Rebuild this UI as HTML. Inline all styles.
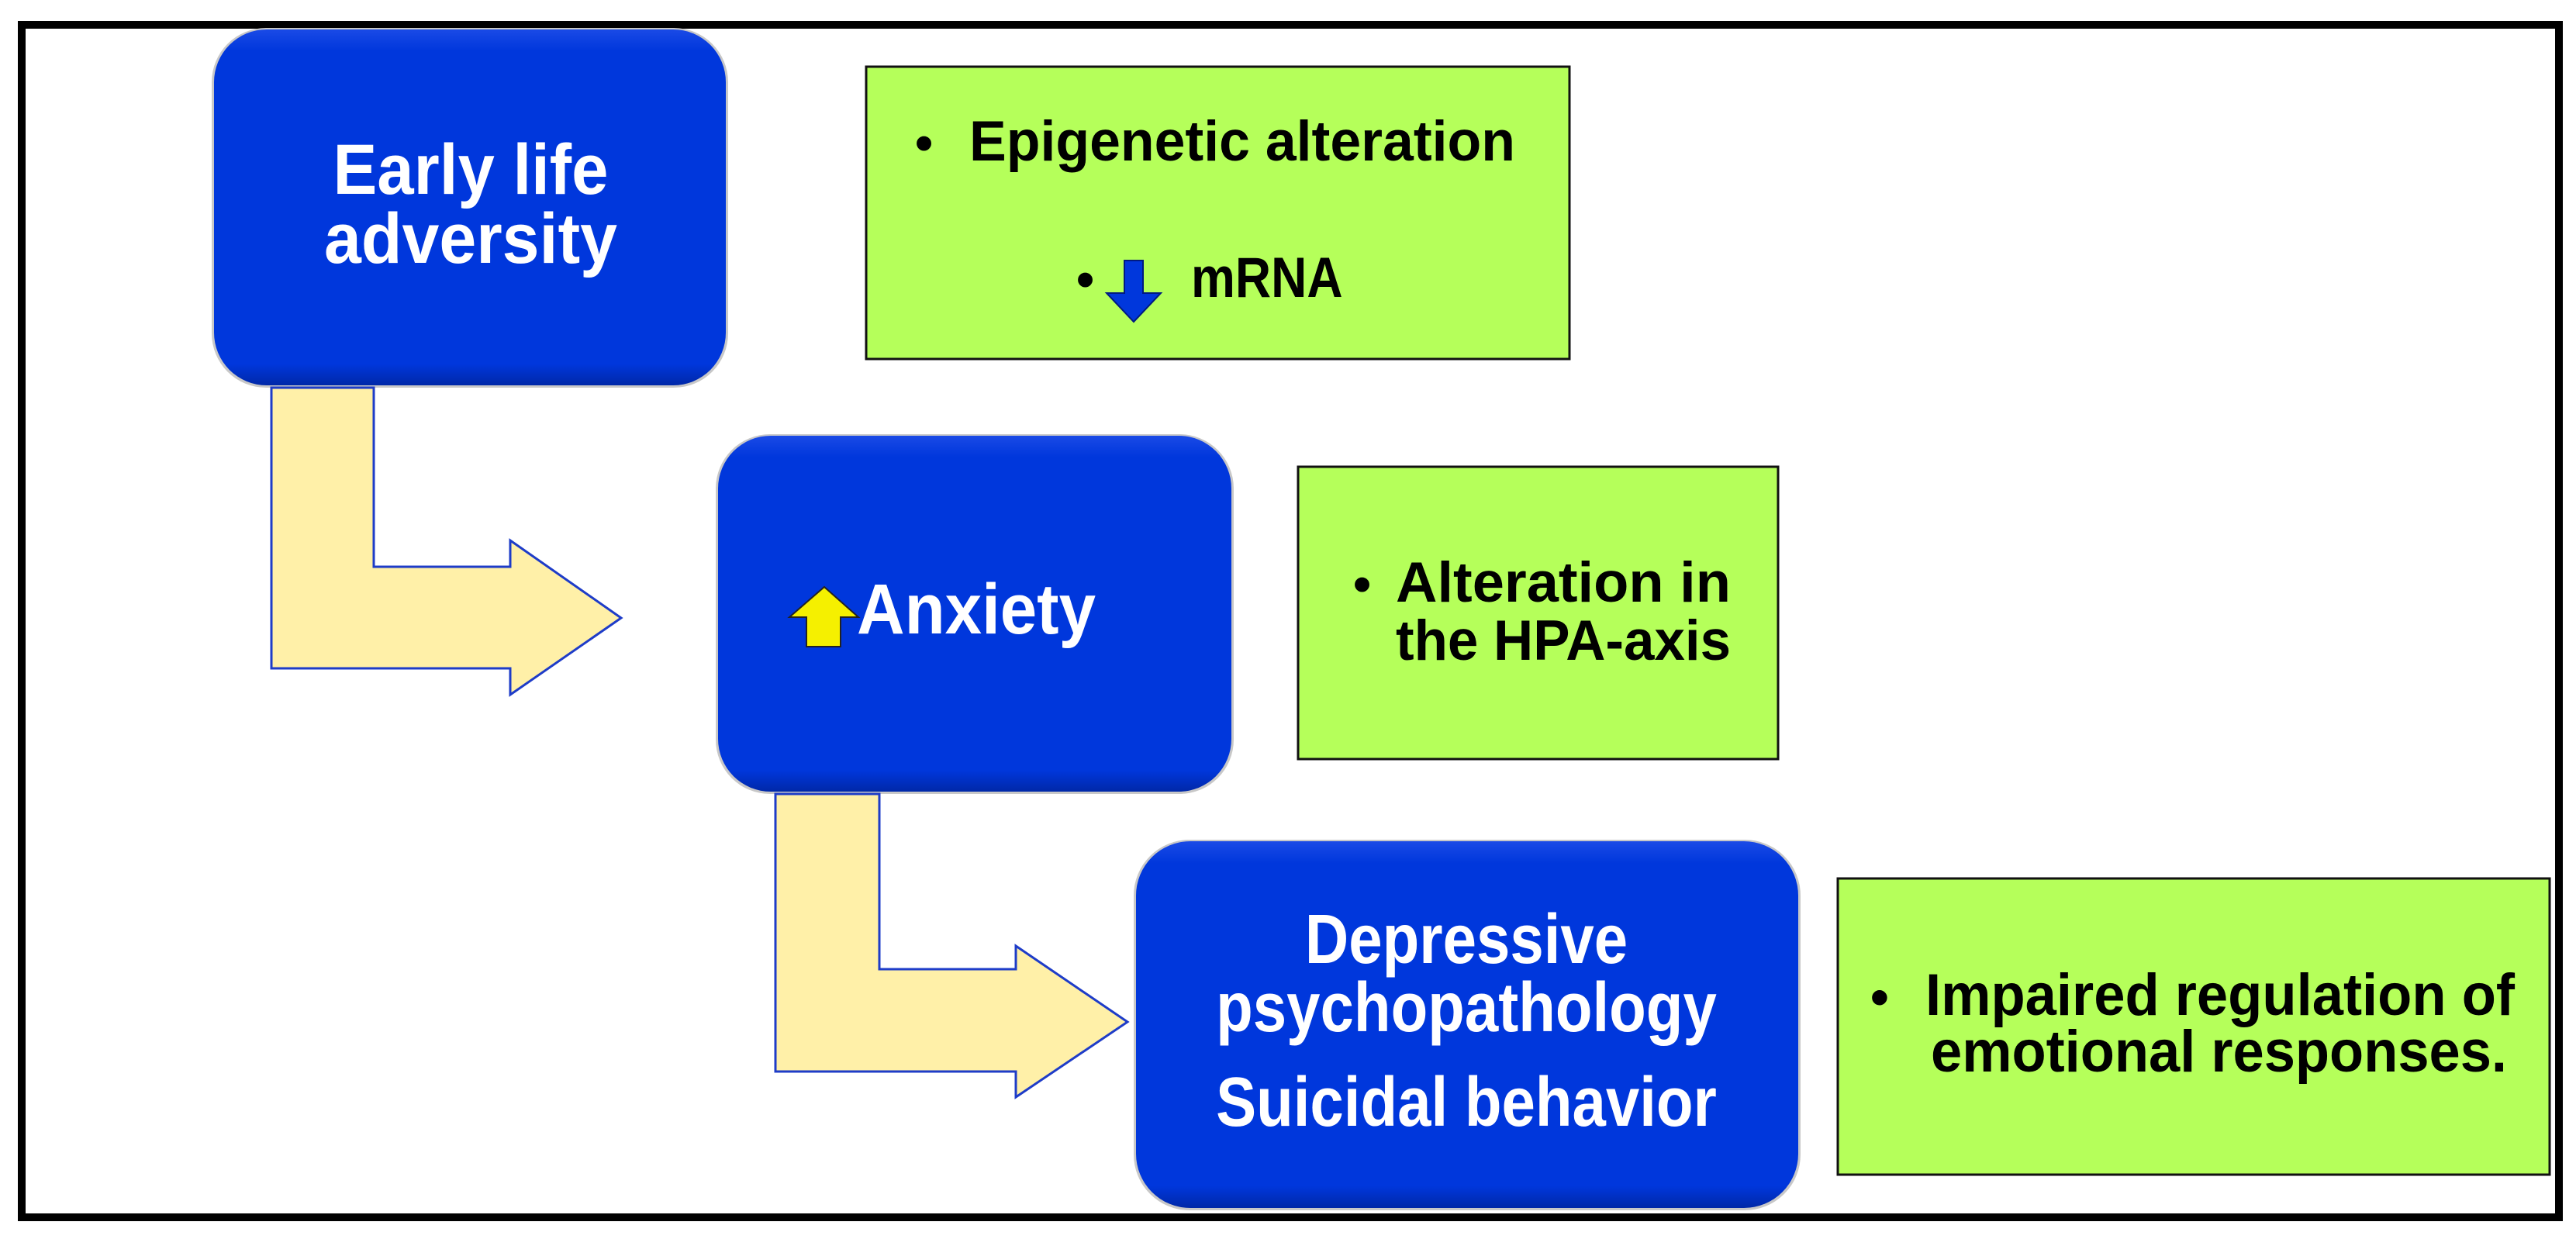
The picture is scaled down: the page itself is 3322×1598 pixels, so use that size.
<!DOCTYPE html>
<html><head><meta charset="utf-8"><style>
html,body{margin:0;padding:0;background:#fff;}
svg{display:block;}
text{font-family:"Liberation Sans",Arial,sans-serif;font-weight:bold;}
</style></head><body>
<svg width="3322" height="1598" viewBox="0 0 3322 1598" xmlns="http://www.w3.org/2000/svg">
<defs>
<linearGradient id="bv" x1="0" y1="0" x2="0" y2="1">
<stop offset="0" stop-color="#1a4ae6"/><stop offset="0.06" stop-color="#0037dc"/><stop offset="0.94" stop-color="#0037dc"/><stop offset="1" stop-color="#0028a8"/>
</linearGradient>
</defs>
<rect x="0" y="0" width="3322" height="1598" fill="#fff"/>
<rect x="28" y="32" width="3272" height="1538" fill="#fff" stroke="#000" stroke-width="10"/>

<rect x="273" y="36" width="666" height="464" rx="70" fill="#c8c8c8"/>
<rect x="276" y="38" width="660" height="459" rx="68" fill="url(#bv)"/>
<rect x="923" y="560" width="668" height="464" rx="70" fill="#c8c8c8"/>
<rect x="926" y="562" width="662" height="459" rx="68" fill="url(#bv)"/>
<rect x="1462" y="1083" width="860" height="478" rx="72" fill="#c8c8c8"/>
<rect x="1465" y="1085" width="854" height="473" rx="70" fill="url(#bv)"/>

<rect x="1117" y="86" width="907" height="377" fill="#b5ff5a" stroke="#111" stroke-width="3"/>
<rect x="1674" y="602" width="619" height="377" fill="#b5ff5a" stroke="#111" stroke-width="3"/>
<rect x="2370" y="1133" width="918" height="382" fill="#b5ff5a" stroke="#111" stroke-width="3"/>

<path d="M350 500 L482 500 L482 731 L658 731 L658 697 L801 797 L658 896 L658 862 L350 862 Z" fill="#fff0a8" stroke="#1e3cc8" stroke-width="3"/>
<path d="M1000 1024 L1134 1024 L1134 1250 L1310 1250 L1310 1220 L1454 1318 L1310 1415 L1310 1382 L1000 1382 Z" fill="#fff0a8" stroke="#1e3cc8" stroke-width="3"/>

<g fill="#fff" text-anchor="middle">
<text transform="translate(607,250) scale(1,1.15)" font-size="80" textLength="355" lengthAdjust="spacingAndGlyphs">Early life</text>
<text transform="translate(607,339) scale(1,1.15)" font-size="80" textLength="378" lengthAdjust="spacingAndGlyphs">adversity</text>
<text transform="translate(1891,1242) scale(1,1.15)" font-size="78">Depressive</text>
<text transform="translate(1891,1330) scale(1,1.15)" font-size="78">psychopathology</text>
<text transform="translate(1891,1452) scale(1,1.15)" font-size="78">Suicidal behavior</text>
</g>

<path d="M1063 757 L1107 796 L1084 796 L1084 834 L1040 834 L1040 796 L1018 796 Z" fill="#f5f000" stroke="#222" stroke-width="2"/>
<text transform="translate(1105,817) scale(1,1.15)" font-size="80" fill="#fff" textLength="308" lengthAdjust="spacingAndGlyphs">Anxiety</text>

<g fill="#000">
<text x="1180" y="207" font-size="66">•</text>
<text transform="translate(1250,207) scale(1,1.15)" font-size="64" textLength="704" lengthAdjust="spacingAndGlyphs">Epigenetic alteration</text>
<text x="1388" y="383" font-size="66">•</text>
<text transform="translate(1536,383) scale(1,1.15)" font-size="64">mRNA</text>
<text x="1745" y="776" font-size="66">•</text>
<text transform="translate(1800,776) scale(1,1.15)" font-size="64" textLength="432" lengthAdjust="spacingAndGlyphs">Alteration in</text>
<text transform="translate(1800,851) scale(1,1.15)" font-size="64" textLength="432" lengthAdjust="spacingAndGlyphs">the HPA-axis</text>
<text x="2412" y="1309" font-size="68">•</text>
<text transform="translate(2483,1309) scale(1,1.15)" font-size="66" textLength="760" lengthAdjust="spacingAndGlyphs">Impaired regulation of</text>
<text transform="translate(2490,1382) scale(1,1.15)" font-size="66" textLength="743" lengthAdjust="spacingAndGlyphs">emotional responses.</text>
</g>
<path d="M1450 336 L1474 336 L1474 378 L1497 378 L1462 415 L1427 378 L1450 378 Z" fill="#0037dc" stroke="#001a80" stroke-width="2"/>
</svg>
</body></html>
